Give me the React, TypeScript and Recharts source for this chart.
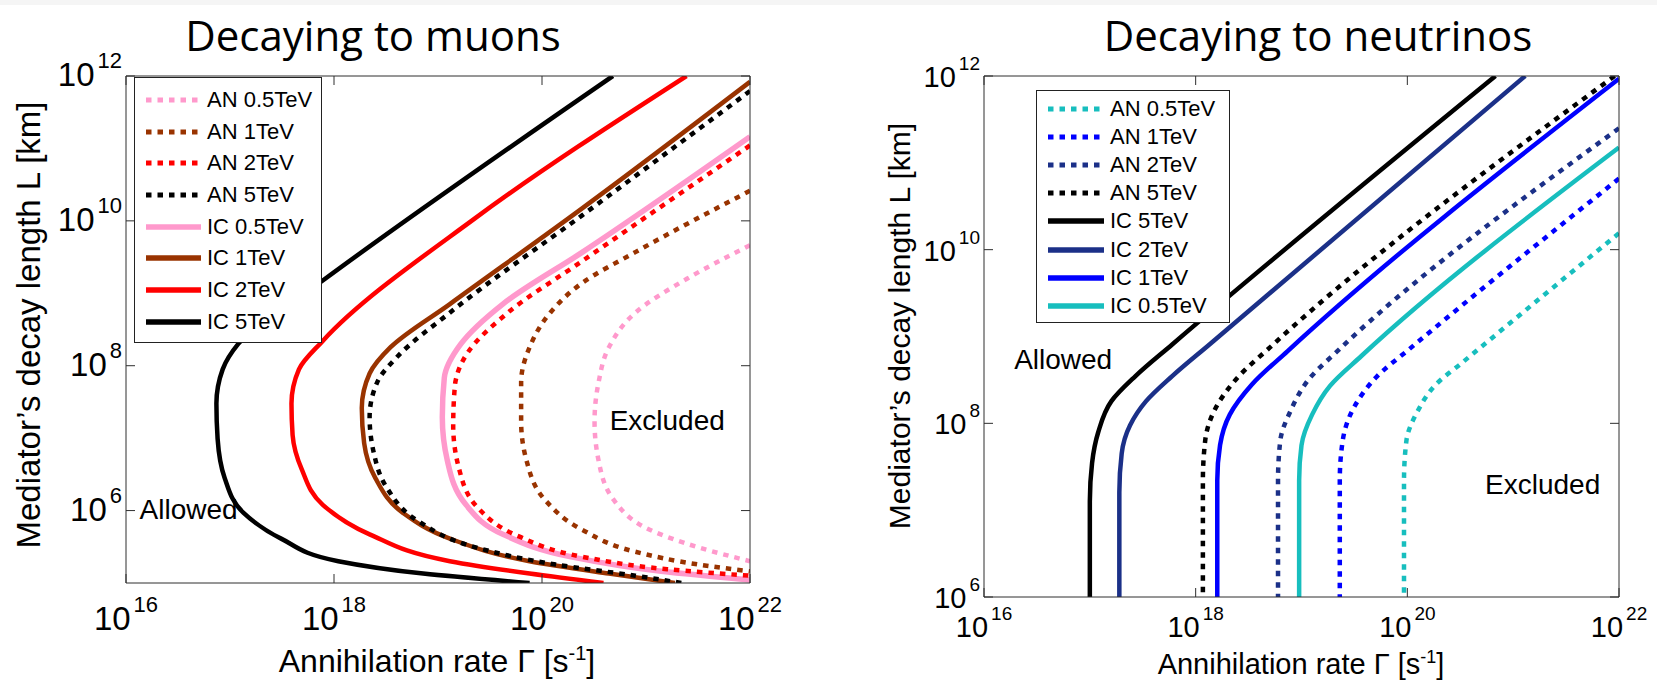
import React from "react";
import { LineChart, Line, XAxis, YAxis, Legend, ReferenceDot } from "recharts";

type Pair = [number, number];

// [Γ (s^-1), L (km)] along each curve, listed from the top of the plot downwards
const muonIC5: Pair[] = [
  [4.8e20, 1e12], [7.8e17, 1.5e9], [1.2e17, 2.0e8], [8.5e16, 8.9e7], [7.4e16, 3.0e7],
  [7.6e16, 9.8e6], [8.9e16, 2.8e6], [1.35e17, 9.3e5], [3.1e17, 4.1e5], [1.1e18, 2.0e5],
  [7.2e18, 1.35e5], [7.6e19, 1e5],
];
const muonIC2: Pair[] = [
  [2.45e21, 1e12], [2.3e19, 1.1e10], [7.8e17, 2.2e8], [4.6e17, 8.9e7], [3.9e17, 3.0e7],
  [4.0e17, 1.1e7], [4.9e17, 3.7e6], [7.8e17, 1.2e6], [2.2e18, 4.7e5], [1.3e19, 2.0e5],
  [7.6e19, 1.35e5], [3.9e20, 1e5],
];
const muonIC1: Pair[] = [
  [1e22, 8.3e11], [2.45e20, 1.5e10], [1.3e19, 7.1e8], [3.5e18, 1.8e8], [2.2e18, 7.8e7],
  [1.85e18, 2.6e7], [1.95e18, 8.5e6], [2.5e18, 2.8e6], [4.6e18, 9.3e5], [1.3e19, 4.1e5],
  [7.6e19, 2.0e5], [4.4e20, 1.35e5], [1.9e21, 1e5],
];
const muonIC05: Pair[] = [
  [1e22, 1.45e11], [2.45e20, 3.7e9], [4.2e19, 7.1e8], [1.66e19, 2.0e8], [1.15e19, 6.8e7],
  [1.1e19, 1.95e7], [1.23e19, 4.9e6], [1.86e19, 1.2e6], [4.2e19, 4.7e5], [1.9e20, 2.3e5],
  [1.4e21, 1.45e5], [1e22, 1.1e5],
];
const muonAN5: Pair[] = [
  [1e22, 6.2e11], [2.45e20, 1.2e10], [1.3e19, 5.4e8], [4.1e18, 1.35e8], [2.6e18, 5.9e7],
  [2.2e18, 1.95e7], [2.4e18, 6.5e6], [3.2e18, 2.1e6], [6.5e18, 7.1e5], [2.3e19, 3.1e5],
  [1.35e20, 1.8e5], [7.9e20, 1.26e5], [2.2e21, 1e5],
];
const muonAN2: Pair[] = [
  [1e22, 1.1e11], [2.45e20, 2.8e9], [4.7e19, 5.4e8], [1.95e19, 1.55e8], [1.45e19, 5.1e7],
  [1.4e19, 1.5e7], [1.6e19, 3.7e6], [2.45e19, 1.07e6], [6.0e19, 4.4e5], [2.45e20, 2.3e5],
  [1.6e21, 1.55e5], [1e22, 1.26e5],
];
const muonAN1: Pair[] = [
  [1e22, 2.6e10], [7.9e20, 3.7e9], [2.45e20, 1.4e9], [1.2e20, 5.4e8], [7.6e19, 1.8e8],
  [6.3e19, 5.9e7], [6.3e19, 1.7e7], [7.1e19, 4.9e6], [1.07e20, 1.4e6], [2.45e20, 5.4e5],
  [7.9e20, 2.7e5], [3.2e21, 1.8e5], [1e22, 1.45e5],
];
const muonAN05: Pair[] = [
  [1e22, 4.6e9], [2.5e21, 1.6e9], [7.9e20, 5.4e8], [4.4e20, 1.8e8], [3.5e20, 5.9e7],
  [3.2e20, 1.7e7], [3.5e20, 4.9e6], [4.9e20, 1.4e6], [1.1e21, 5.4e5], [3.2e21, 3.1e5],
  [1e22, 2.0e5],
];

const nuIC5: Pair[] = [
  [6.8e20, 1e12], [6.0e17, 8.1e8], [2.7e17, 3.5e8], [1.6e17, 1.8e8], [1.2e17, 7.9e7],
  [1.05e17, 3.5e7], [1e17, 1.26e7], [1e17, 1e6],
];
const nuIC2: Pair[] = [
  [1.3e21, 1e12], [1.35e18, 8.1e8], [6.0e17, 3.5e8], [3.4e17, 1.8e8], [2.4e17, 9.5e7],
  [2.0e17, 4.5e7], [1.9e17, 1.6e7], [1.9e17, 1e6],
];
const nuIC1: Pair[] = [
  [1e22, 9.3e11], [7.4e18, 6.8e8], [3.4e18, 2.8e8], [2.1e18, 1.26e8], [1.7e18, 5.6e7],
  [1.6e18, 2.2e7], [1.6e18, 1e6],
];
const nuIC05: Pair[] = [
  [1e22, 1.5e11], [3.7e19, 6.0e8], [1.86e19, 2.7e8], [1.26e19, 1.26e8], [1e19, 5.6e7],
  [9.5e18, 2.2e7], [9.5e18, 1e6],
];
const nuAN5: Pair[] = [
  [9.1e21, 1e12], [5.4e18, 8.1e8], [2.4e18, 3.2e8], [1.5e18, 1.4e8], [1.23e18, 6.3e7],
  [1.17e18, 2.2e7], [1.17e18, 1e6],
];
const nuAN2: Pair[] = [
  [1e22, 2.5e11], [2.3e19, 7.2e8], [1.17e19, 3.2e8], [7.9e18, 1.4e8], [6.3e18, 6.3e7],
  [6.0e18, 2.2e7], [6.0e18, 1e6],
];
const nuAN1: Pair[] = [
  [1e22, 6.6e10], [1.05e20, 7.2e8], [5.2e19, 3.5e8], [3.2e19, 1.6e8], [2.45e19, 6.3e7],
  [2.3e19, 2.2e7], [2.3e19, 1e6],
];
const nuAN05: Pair[] = [
  [1e22, 1.55e10], [3.3e20, 5.0e8], [1.86e20, 2.8e8], [1.26e20, 1.4e8], [9.8e19, 6.3e7],
  [9.3e19, 2.2e7], [9.3e19, 1e6],
];

const xTicks = [1e16, 1e18, 1e20, 1e22];
const xDomain = [1e16, 1e22];
const muonYTicks = [1e6, 1e8, 1e10, 1e12];
const muonYDomain = [1e5, 1e12];
const nuYTicks = [1e6, 1e8, 1e10, 1e12];
const nuYDomain = [1e6, 1e12];

type Series = { name: string; data: Pair[]; color: string; dotted: boolean; width?: number };

const PINK = "#ff99cc";
const BROWN = "#993300";
const TEAL = "#17bebe";
const NAVY = "#1b3088";
const BLUE = "#0000ff";

// legend order
const muonSeries: Series[] = [
  { name: "AN 0.5TeV", data: muonAN05, color: PINK, dotted: true },
  { name: "AN 1TeV", data: muonAN1, color: BROWN, dotted: true },
  { name: "AN 2TeV", data: muonAN2, color: "#ff0000", dotted: true },
  { name: "AN 5TeV", data: muonAN5, color: "#000000", dotted: true },
  { name: "IC 0.5TeV", data: muonIC05, color: PINK, dotted: false, width: 5.5 },
  { name: "IC 1TeV", data: muonIC1, color: BROWN, dotted: false },
  { name: "IC 2TeV", data: muonIC2, color: "#ff0000", dotted: false },
  { name: "IC 5TeV", data: muonIC5, color: "#000000", dotted: false },
];

const nuSeries: Series[] = [
  { name: "AN 0.5TeV", data: nuAN05, color: TEAL, dotted: true },
  { name: "AN 1TeV", data: nuAN1, color: BLUE, dotted: true },
  { name: "AN 2TeV", data: nuAN2, color: NAVY, dotted: true },
  { name: "AN 5TeV", data: nuAN5, color: "#000000", dotted: true },
  { name: "IC 5TeV", data: nuIC5, color: "#000000", dotted: false },
  { name: "IC 2TeV", data: nuIC2, color: NAVY, dotted: false },
  { name: "IC 1TeV", data: nuIC1, color: BLUE, dotted: false },
  { name: "IC 0.5TeV", data: nuIC05, color: TEAL, dotted: false },
];

const DASH = "5.5 6";
const AXIS = "#2e2e2e";
const SANS = "'Liberation Sans', Arial, sans-serif";
// negative length puts the tick marks inside the frame
const TICK_LEN = -9;

const toPoints = (arr: Pair[]) => arr.map(([g, l]) => ({ g, l }));

type TickStyle = { base: number; sup: number; rise: number; drop: number };

function PowerTick(props: any) {
  const { x, y, payload, anchor, st } = props;
  const exp = Math.round(Math.log10(payload.value));
  return (
    <text x={x} y={y + st.drop} textAnchor={anchor} fontSize={st.base} fill="#000" fontFamily={SANS}>
      <tspan>10</tspan>
      <tspan dx={3} dy={-st.rise} fontSize={st.sup}>
        {exp}
      </tspan>
    </text>
  );
}

// keeps the tick marks on the top/right frame, without labels
const NoLabel = () => <g />;

type LegendCfg = { left: number; top: number; width: number; height: number; padTop: number; rowH: number; sample: number };

function LegendBox({ items, cfg }: { items: Series[]; cfg: LegendCfg }) {
  return (
    <div
      style={{
        width: cfg.width,
        height: cfg.height,
        boxSizing: "border-box",
        border: "1.5px solid #222",
        background: "#fff",
        paddingTop: cfg.padTop,
        paddingLeft: 11,
        fontFamily: SANS,
        fontSize: 22,
        lineHeight: 1,
        color: "#000",
      }}
    >
      {items.map((s) => (
        <div key={s.name} style={{ height: cfg.rowH, display: "flex", alignItems: "center" }}>
          <svg width={cfg.sample} height={10} style={{ marginRight: 6, flexShrink: 0 }}>
            <line
              x1={0}
              x2={cfg.sample}
              y1={5}
              y2={5}
              stroke={s.color}
              strokeWidth={s.dotted ? 5 : 5.5}
              strokeDasharray={s.dotted ? DASH : undefined}
            />
          </svg>
          <span style={{ whiteSpace: "nowrap" }}>{s.name}</span>
        </div>
      ))}
    </div>
  );
}

type Note = { text: string; x: number; y: number };

type PanelProps = {
  left: number;
  width: number;
  margin: { top: number; right: number; bottom: number; left: number };
  yDomain: number[];
  yTicks: number[];
  series: Series[];
  legend: LegendCfg;
  notes: Note[];
  xTick: TickStyle;
  yTick: TickStyle;
  xTickGap: number;
};

function Panel(p: PanelProps) {
  // solid curves underneath, dotted ones on top
  const drawn = [...p.series.filter((s) => !s.dotted), ...p.series.filter((s) => s.dotted)];
  return (
    <div style={{ position: "absolute", left: p.left, top: 0 }}>
      <LineChart width={p.width} height={683} margin={p.margin} style={{ fontFamily: SANS }}>
        <XAxis
          dataKey="g"
          type="number"
          scale="log"
          domain={xDomain}
          ticks={xTicks}
          allowDataOverflow
          height={30}
          stroke={AXIS}
          tickSize={TICK_LEN}
          tickMargin={p.xTickGap - TICK_LEN}
          tick={(t: any) => <PowerTick {...t} anchor="middle" st={p.xTick} />}
        />
        <XAxis
          xAxisId="top"
          orientation="top"
          dataKey="g"
          type="number"
          scale="log"
          domain={xDomain}
          ticks={xTicks}
          allowDataOverflow
          height={10}
          stroke={AXIS}
          tickSize={TICK_LEN}
          tick={NoLabel}
        />
        <YAxis
          dataKey="l"
          type="number"
          scale="log"
          domain={p.yDomain}
          ticks={p.yTicks}
          allowDataOverflow
          width={60}
          stroke={AXIS}
          tickSize={TICK_LEN}
          tickMargin={4 - TICK_LEN}
          tick={(t: any) => <PowerTick {...t} anchor="end" st={p.yTick} />}
        />
        <YAxis
          yAxisId="right"
          orientation="right"
          dataKey="l"
          type="number"
          scale="log"
          domain={p.yDomain}
          ticks={p.yTicks}
          allowDataOverflow
          width={10}
          stroke={AXIS}
          tickSize={TICK_LEN}
          tick={NoLabel}
        />
        {drawn.map((s) => (
          <Line
            key={s.name}
            data={toPoints(s.data)}
            dataKey="l"
            name={s.name}
            type="monotoneY"
            stroke={s.color}
            strokeWidth={s.width ?? 4.5}
            strokeDasharray={s.dotted ? DASH : undefined}
            dot={false}
            activeDot={false}
            isAnimationActive={false}
          />
        ))}
        {p.notes.map((n) => (
          <ReferenceDot
            key={n.text}
            x={n.x}
            y={n.y}
            r={0}
            fill="none"
            stroke="none"
            label={{ value: n.text, position: "center", fontSize: 28, fill: "#000", fontFamily: SANS }}
          />
        ))}
        <Legend
          layout="vertical"
          align="center"
          verticalAlign="middle"
          wrapperStyle={{ left: p.legend.left, top: p.legend.top, width: p.legend.width, height: p.legend.height }}
          content={() => <LegendBox items={p.series} cfg={p.legend} />}
        />
      </LineChart>
    </div>
  );
}

export default function App() {
  return (
    <div style={{ position: "absolute", left: 0, top: 0, width: 1657, height: 683, background: "#fff", overflow: "hidden" }}>
      <div style={{ position: "absolute", left: 0, top: 0, width: 1657, height: 5, background: "#f5f5f5" }} />
      <Panel
        left={0}
        width={830}
        margin={{ top: 66, right: 70, bottom: 70, left: 66 }}
        yDomain={muonYDomain}
        yTicks={muonYTicks}
        series={muonSeries}
        legend={{ left: 134, top: 77, width: 188, height: 266, padTop: 6, rowH: 31.7, sample: 55 }}
        notes={[
          { text: "Allowed", x: 4e16, y: 1.05e6 },
          { text: "Excluded", x: 1.6e21, y: 1.75e7 },
        ]}
        xTick={{ base: 33, sup: 22, rise: 18, drop: 0 }}
        yTick={{ base: 33, sup: 22, rise: 18, drop: 10 }}
        xTickGap={47}
      />
      <Panel
        left={830}
        width={827}
        margin={{ top: 66, right: 28, bottom: 56, left: 94 }}
        yDomain={nuYDomain}
        yTicks={nuYTicks}
        series={nuSeries}
        legend={{ left: 206, top: 90, width: 194, height: 233, padTop: 4, rowH: 28.1, sample: 56 }}
        notes={[
          { text: "Allowed", x: 5.6e16, y: 5.5e8 },
          { text: "Excluded", x: 1.9e21, y: 2e7 },
        ]}
        xTick={{ base: 29, sup: 19, rise: 17, drop: 0 }}
        yTick={{ base: 29, sup: 19, rise: 17, drop: 11 }}
        xTickGap={40}
      />
      <svg width={1657} height={683} style={{ position: "absolute", left: 0, top: 0, pointerEvents: "none" }}>
        <text x={373} y={51} textAnchor="middle" fontSize={42} fontFamily="'Open Sans', sans-serif" fill="#000">
          Decaying to muons
        </text>
        <text x={1318} y={51} textAnchor="middle" fontSize={42} fontFamily="'Open Sans', sans-serif" fill="#000">
          Decaying to neutrinos
        </text>
        <text transform="translate(40,325) rotate(-90)" textAnchor="middle" fontSize={33} fontFamily={SANS} fill="#000">
          Mediator’s decay length L [km]
        </text>
        <text transform="translate(910,326) rotate(-90)" textAnchor="middle" fontSize={30} fontFamily={SANS} fill="#000">
          Mediator’s decay length L [km]
        </text>
        <text x={437} y={672} textAnchor="middle" fontSize={32} fontFamily={SANS} fill="#000">
          Annihilation rate Γ [s<tspan dy={-12} fontSize={20}>-1</tspan>
          <tspan dy={12}>]</tspan>
        </text>
        <text x={1301} y={674} textAnchor="middle" fontSize={29} fontFamily={SANS} fill="#000">
          Annihilation rate Γ [s<tspan dy={-11} fontSize={18}>-1</tspan>
          <tspan dy={11}>]</tspan>
        </text>
      </svg>
    </div>
  );
}
